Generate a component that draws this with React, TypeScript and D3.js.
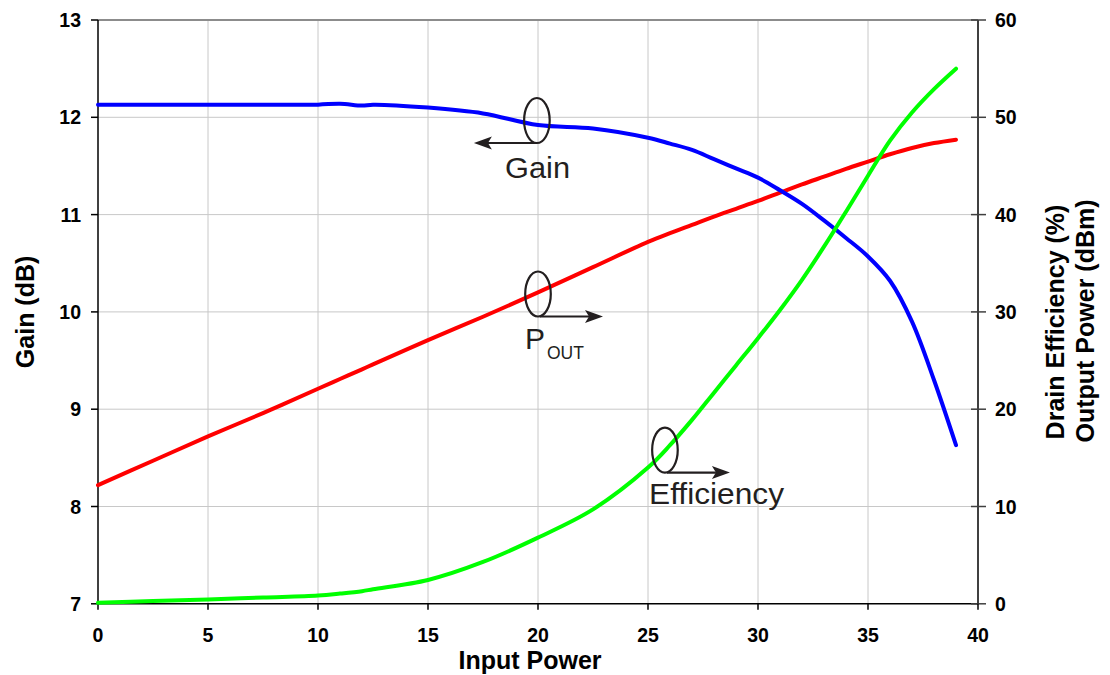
import React from "react";
import * as d3 from "d3";

const inputPower = [0, 2.5, 5, 7.5, 10, 11, 12, 12.5, 15, 17.5, 20, 22.5, 25, 26, 27, 28, 29, 30, 31, 32, 33, 34, 35, 36, 37, 38, 39];
const gainDb = [12.13, 12.13, 12.13, 12.13, 12.13, 12.14, 12.12, 12.13, 12.1, 12.04, 11.92, 11.885, 11.79, 11.73, 11.665, 11.57, 11.475, 11.38, 11.25, 11.11, 10.94, 10.76, 10.57, 10.32, 9.9, 9.3, 8.63];
const outputPower = [12.2, 14.7, 17.2, 19.6, 22.1, 23.1, 24.1, 24.6, 27.1, 29.5, 32.0, 34.6, 37.2, 38.1, 38.95, 39.8, 40.6, 41.4, 42.25, 43.1, 43.9, 44.7, 45.45, 46.2, 46.85, 47.35, 47.7];
const efficiency = [0.1, 0.3, 0.45, 0.65, 0.85, 1.05, 1.3, 1.5, 2.45, 4.3, 6.8, 9.7, 14.0, 16.3, 18.9, 21.7, 24.5, 27.3, 30.2, 33.3, 36.7, 40.3, 44.0, 47.6, 50.5, 52.9, 55.0];

const xTicks = [0, 5, 10, 15, 20, 25, 30, 35, 40];
const leftTicks = [7, 8, 9, 10, 11, 12, 13];
const rightTicks = [0, 10, 20, 30, 40, 50, 60];

type Ann = { x: number; y: number; axis: "left" | "right"; label: string; sub?: string; dir: 1 | -1 };
const annotations: Ann[] = [
  { x: 19.95, y: 11.967, axis: "left", label: "Gain", dir: -1 },
  { x: 20.0, y: 31.84, axis: "right", label: "P", sub: "OUT", dir: 1 },
  { x: 25.77, y: 15.8, axis: "right", label: "Efficiency", dir: 1 },
];

const W = 1110;
const H = 675;
const FONT = "'Liberation Sans', Arial, Helvetica, sans-serif";
const INK = "#231f20";

export default function App() {
  const x = d3.scaleLinear().domain([0, 40]).range([98, 978]);
  const yL = d3.scaleLinear().domain([7, 13]).range([603.8, 20]);
  const yR = d3.scaleLinear().domain([0, 60]).range([603.8, 20]);

  const mk = (vals: number[], ys: d3.ScaleLinear<number, number>) =>
    d3
      .line<number>()
      .x((_, i) => x(inputPower[i]))
      .y((v) => ys(v))
      .curve(d3.curveCatmullRom.alpha(0.5))(vals) || "";

  const top = yL(13);
  const bottom = yL(7);
  const left = x(0);
  const right = x(40);

  return (
    <svg
      width={W}
      height={H}
      style={{ position: "absolute", left: 0, top: 0, background: "#fff" }}
      fontFamily={FONT}
    >
      <rect x={0} y={0} width={W} height={H} fill="#fff" />
      {/* grid */}
      {xTicks.slice(1, -1).map((t) => (
        <line key={"gx" + t} x1={x(t)} x2={x(t)} y1={top} y2={bottom} stroke="#c8c8c8" strokeWidth={1} />
      ))}
      {leftTicks.slice(1, -1).map((t) => (
        <line key={"gy" + t} x1={left} x2={right} y1={yL(t)} y2={yL(t)} stroke="#c8c8c8" strokeWidth={1} />
      ))}
      <line x1={left} x2={right} y1={top} y2={top} stroke="#8c8c8c" strokeWidth={2} />

      {/* axes */}
      <line x1={left} x2={left} y1={top} y2={bottom} stroke="#000" strokeWidth={1.5} />
      <line x1={left} x2={right} y1={bottom} y2={bottom} stroke="#000" strokeWidth={1.5} />
      <line x1={right} x2={right} y1={top} y2={bottom} stroke="#404040" strokeWidth={2} />

      {leftTicks.map((t) => (
        <g key={"lt" + t}>
          <line x1={left - 7} x2={left} y1={yL(t)} y2={yL(t)} stroke="#000" strokeWidth={1.5} />
          <text x={81} y={yL(t) + 7} textAnchor="end" fontSize={19.5} fontWeight="bold" fill="#000">
            {t}
          </text>
        </g>
      ))}
      {rightTicks.map((t) => (
        <g key={"rt" + t}>
          <line x1={right - 7} x2={right + 8} y1={yR(t)} y2={yR(t)} stroke="#404040" strokeWidth={1.5} />
          <text x={995} y={yR(t) + 7} textAnchor="start" fontSize={19.5} fontWeight="bold" fill="#000">
            {t}
          </text>
        </g>
      ))}
      {xTicks.map((t) => (
        <g key={"xt" + t}>
          <line x1={x(t)} x2={x(t)} y1={bottom} y2={bottom + 6} stroke="#000" strokeWidth={1.5} />
          <text x={x(t)} y={641.5} textAnchor="middle" fontSize={19.5} fontWeight="bold" fill="#000">
            {t}
          </text>
        </g>
      ))}

      {/* axis titles */}
      <text x={530} y={669} textAnchor="middle" fontSize={25} fontWeight="bold" fill="#000">
        Input Power
      </text>
      <text
        transform={`translate(34, ${(top + bottom) / 2}) rotate(-90)`}
        textAnchor="middle"
        fontSize={25}
        fontWeight="bold"
        fill="#000"
      >
        Gain (dB)
      </text>
      <text
        transform={`translate(1064, 322) rotate(-90)`}
        textAnchor="middle"
        fontSize={25}
        fontWeight="bold"
        fill="#000"
      >
        Drain Efficiency (%)
      </text>
      <text
        transform={`translate(1094, 321) rotate(-90)`}
        textAnchor="middle"
        fontSize={25}
        fontWeight="bold"
        fill="#000"
      >
        Output Power (dBm)
      </text>

      {/* series */}
      <path d={mk(outputPower, yR)} fill="none" stroke="#ff0000" strokeWidth={4} strokeLinejoin="round" strokeLinecap="round" />
      <path d={mk(gainDb, yL)} fill="none" stroke="#0000ff" strokeWidth={4} strokeLinejoin="round" strokeLinecap="round" />
      <path d={mk(efficiency, yR)} fill="none" stroke="#00ff00" strokeWidth={4} strokeLinejoin="round" strokeLinecap="round" />

      {/* annotations */}
      {annotations.map((a) => {
        const cx = x(a.x);
        const cy = a.axis === "left" ? yL(a.y) : yR(a.y);
        const rx = 12.8;
        const ry = 22.5;
        const by = cy + ry;
        const x0 = cx + (a.dir === 1 ? 2 : 0);
        const tip = x0 + a.dir * 63;
        const back = tip - a.dir * 18;
        const notch = tip - a.dir * 14;
        return (
          <g key={a.label}>
            <ellipse cx={cx} cy={cy} rx={rx} ry={ry} fill="none" stroke={INK} strokeWidth={2.2} />
            <line x1={x0} x2={notch} y1={by} y2={by} stroke={INK} strokeWidth={2.2} />
            <path d={`M${tip},${by} L${back},${by - 6.5} L${notch},${by} L${back},${by + 6.5} Z`} fill={INK} />
            {a.label === "Gain" && (
              <text x={505} y={by + 34.5} fontSize={29} fill={INK} textLength={65} lengthAdjust="spacingAndGlyphs">
                Gain
              </text>
            )}
            {a.sub && (
              <>
                <text x={525} y={by + 32.5} fontSize={30} fill={INK}>
                  {a.label}
                </text>
                <text x={547} y={by + 43} fontSize={17.5} fill={INK}>
                  {a.sub}
                </text>
              </>
            )}
            {a.label === "Efficiency" && (
              <text x={649} y={by + 31} fontSize={29} fill={INK} textLength={135} lengthAdjust="spacingAndGlyphs">
                Efficiency
              </text>
            )}
          </g>
        );
      })}
    </svg>
  );
}
